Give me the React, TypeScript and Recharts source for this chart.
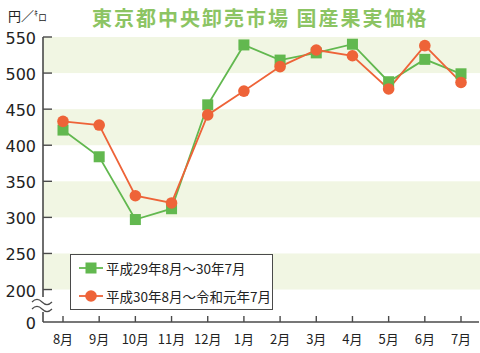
import { LineChart, Line, XAxis, YAxis, ReferenceArea } from 'recharts';

const months = ['8月', '9月', '10月', '11月', '12月', '1月', '2月', '3月', '4月', '5月', '6月', '7月'];
const h29Prices = [421, 384, 297, 312, 456, 539, 518, 528, 540, 488, 519, 499];
const h30Prices = [433, 428, 330, 320, 442, 475, 509, 532, 524, 478, 538, 487];
const yTicks = [155, 200, 250, 300, 350, 400, 450, 500, 550];
const bands = [[200, 250], [300, 350], [400, 450], [500, 550]];

const seriesNames = ['平成29年8月～30年7月', '平成30年8月～令和元年7月'];

const GREEN = '#62b84f';
const ORANGE = '#ee6338';
const AXIS = '#4a4a4a';
const BAND = '#f1f6e3';

const data = months.map((m, i) => ({ month: m, h29: h29Prices[i], h30: h30Prices[i] }));

const SquareDot = (props: any) => {
  const { cx, cy, index } = props;
  if (cx == null || cy == null) return <g key={`s-${index}`} />;
  return <rect key={`s-${index}`} x={cx - 5.5} y={cy - 5.5} width={11} height={11} fill={GREEN} />;
};

const CircleDot = (props: any) => {
  const { cx, cy, index } = props;
  if (cx == null || cy == null) return <g key={`c-${index}`} />;
  return <circle key={`c-${index}`} cx={cx} cy={cy} r={5.8} fill={ORANGE} />;
};

// the padded x axis would clip the bands, so stretch them over the whole plot
const FullBand = (props: any) => (
  <rect x={43} y={props.y} width={437} height={props.height} fill={BAND} />
);

const XTick = (props: any) => {
  const { x, y, payload } = props;
  return (
    <g>
      <line x1={x} y1={y} x2={x} y2={y - 6} stroke={AXIS} strokeWidth={1.4} />
      <text x={x} y={y + 22} textAnchor="middle" fontSize={13} fill="#222"
        fontFamily="'Noto Sans CJK JP', sans-serif">
        {payload.value}
      </text>
    </g>
  );
};

const YTick = (props: any) => {
  const { x, y, payload } = props;
  const isZero = payload.value === 155;
  return (
    <g>
      {isZero ? (
        <g>
          <rect x={38} y={297} width={10} height={15} fill="#fff" />
          <path d={`M32 ${y - 20} Q37 ${y - 25} 42 ${y - 20} T52 ${y - 20}`} fill="none" stroke={AXIS} strokeWidth={1.2} />
          <path d={`M32 ${y - 13} Q37 ${y - 18} 42 ${y - 13} T52 ${y - 13}`} fill="none" stroke={AXIS} strokeWidth={1.2} />
        </g>
      ) : (
        <line x1={x} y1={y} x2={x + 9} y2={y} stroke={AXIS} strokeWidth={1.4} />
      )}
      <text x={x - 7} y={y + 7} textAnchor="end" fontSize={16} fill="#222"
        fontFamily="'DejaVu Sans', sans-serif">
        {isZero ? '0' : payload.value}
      </text>
    </g>
  );
};

export default function App() {
  return (
    <div style={{ position: 'absolute', left: 0, top: 0, width: 480, height: 353, background: '#fff',
      fontFamily: "'Noto Sans CJK JP', sans-serif" }}>
      <div style={{ position: 'absolute', left: 8, top: 6, fontSize: 13, color: '#222' }}>
        円／<span style={{ fontSize: 8, verticalAlign: 'super' }}>ｷ</span><span style={{ fontSize: 9 }}>ロ</span>
      </div>
      <div style={{ position: 'absolute', left: 92, top: 3, fontSize: 20, fontWeight: 700,
        letterSpacing: 2, color: '#8cc463', whiteSpace: 'nowrap' }}>
        東京都中央卸売市場 国産果実価格
      </div>
      <LineChart width={480} height={353} data={data} margin={{ top: 37, right: 1, bottom: 0, left: 0 }}>
        {bands.map(([a, b]) => (
          <ReferenceArea key={a} y1={a} y2={b} fill={BAND} fillOpacity={1} stroke="none"
            ifOverflow="visible" shape={FullBand} />
        ))}
        <XAxis dataKey="month" height={31} padding={{ left: 20, right: 18 }} tickSize={0} tickMargin={0}
          axisLine={{ stroke: AXIS, strokeWidth: 1.6 }} tickLine={false} tick={<XTick />} interval={0} />
        <YAxis type="number" domain={[155, 550]} ticks={yTicks} width={43} tickSize={0} tickMargin={0}
          allowDataOverflow axisLine={{ stroke: AXIS, strokeWidth: 1.6 }} tickLine={false} tick={<YTick />}
          interval={0} />
        <Line dataKey="h29" stroke={GREEN} strokeWidth={1.8} dot={SquareDot} activeDot={false}
          isAnimationActive={false} />
        <Line dataKey="h30" stroke={ORANGE} strokeWidth={1.8} dot={CircleDot} activeDot={false}
          isAnimationActive={false} />
      </LineChart>
      <div style={{ position: 'absolute', left: 70, top: 254, width: 201, height: 54,
        border: `1.5px solid ${AXIS}`, background: '#fff' }}>
        {[GREEN, ORANGE].map((c, i) => (
          <div key={c} style={{ position: 'absolute', left: 8, top: i === 0 ? 2 : 30, height: 22,
            display: 'flex', alignItems: 'center', whiteSpace: 'nowrap' }}>
            <svg width={24} height={14}>
              <line x1={0} y1={7} x2={24} y2={7} stroke={c} strokeWidth={1.8} />
              {i === 0 ? <rect x={6.5} y={1.5} width={11} height={11} fill={c} /> : <circle cx={12} cy={7} r={5.8} fill={c} />}
            </svg>
            <span style={{ fontSize: 13.5, color: '#222', marginLeft: 3 }}>{seriesNames[i]}</span>
          </div>
        ))}
      </div>
    </div>
  );
}
